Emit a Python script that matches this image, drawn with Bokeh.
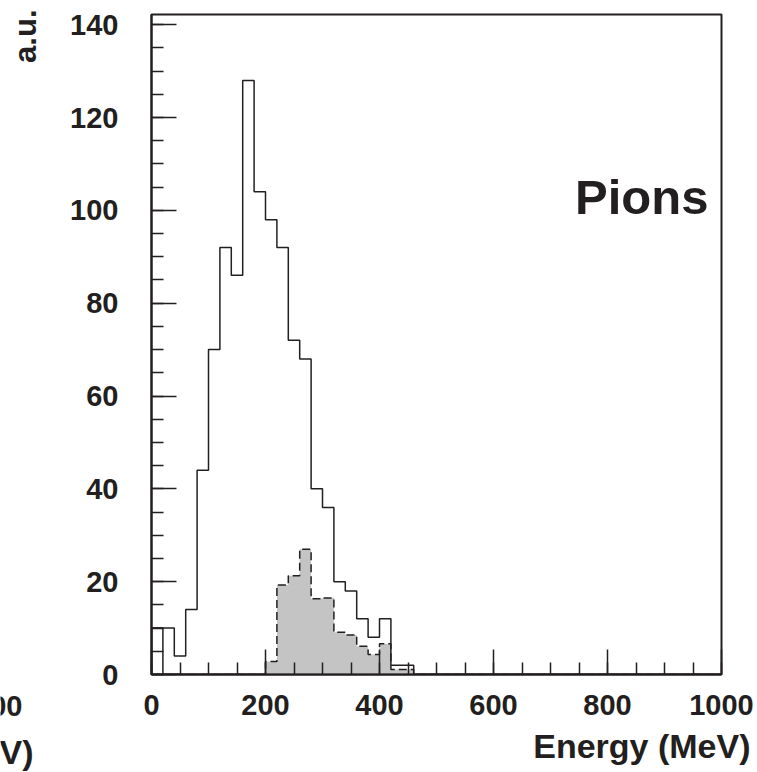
from bokeh.plotting import figure
from bokeh.layouts import row
from bokeh.models import FixedTicker, Label, Range1d, Title
from bokeh.embed import file_html
from bokeh.resources import INLINE

# ---- data (20 MeV bins from 0 to 1000 MeV) ----
energy_edges = [0, 20, 40, 60, 80, 100, 120, 140, 160, 180, 200, 220, 240, 260, 280, 300,
                320, 340, 360, 380, 400, 420, 440, 460, 480, 500, 520, 540, 560, 580, 600,
                620, 640, 660, 680, 700, 720, 740, 760, 780, 800, 820, 840, 860, 880, 900,
                920, 940, 960, 980, 1000]

pions_all = [10, 10, 4, 14, 44, 70, 92, 86, 128, 104, 98, 92, 72, 68, 40, 36, 20, 18, 12, 8,
             12, 2, 2, 0, 0, 0, 0, 0, 0, 0, 0, 0, 0, 0, 0, 0, 0, 0, 0, 0,
             0, 0, 0, 0, 0, 0, 0, 0, 0, 0]

pions_selected = [0, 0, 0, 0, 0, 0, 0, 0, 0, 0, 2.8, 19.3, 21.3, 27, 16.3, 16.5, 9.1, 8.5, 6.1, 4.3,
                  6.6, 1.1, 1.1, 0, 0, 0, 0, 0, 0, 0, 0, 0, 0, 0, 0, 0, 0, 0, 0, 0,
                  0, 0, 0, 0, 0, 0, 0, 0, 0, 0]

pions_extra = [10, 0, 0, 0, 0, 0, 0, 0, 0, 0, 0, 0, 0, 0, 0, 0, 0, 0, 0, 0,
               0, 0, 0, 0, 0, 0, 0, 0, 0, 0, 0, 0, 0, 0, 0, 0, 0, 0, 0, 0,
               0, 0, 0, 0, 0, 0, 0, 0, 0, 0]

x_major = [0, 200, 400, 600, 800, 1000]
x_minor = [0, 50, 100, 150, 200, 250, 300, 350, 400, 450, 500, 550, 600, 650, 700, 750,
           800, 850, 900, 950, 1000]
y_major = [0, 20, 40, 60, 80, 100, 120, 140]
y_minor = [0, 5, 10, 15, 20, 25, 30, 35, 40, 45, 50, 55, 60, 65, 70, 75, 80, 85, 90, 95,
           100, 105, 110, 115, 120, 125, 130, 135, 140]

x_title = "Energy (MeV)"
y_title = "a.u."
panel_label = "Pions"
neighbour_tick = "00"      # cut-off fragment of the neighbouring panel
neighbour_title = "V)"     # cut-off fragment of the neighbouring panel

INK = "#231f20"
FONT = "Liberation Sans"
STRIP_W = 40
H = 772


def step_outline(edges, vals):
    xs = [edges[0]]
    ys = [0]
    for i, v in enumerate(vals):
        xs += [edges[i], edges[i + 1]]
        ys += [v, v]
    xs.append(edges[-1])
    ys.append(0)
    return xs, ys


def txt(**kw):
    base = dict(text_font=FONT, text_font_style="bold", text_color=INK,
                text_baseline="alphabetic", text_align="right")
    base.update(kw)
    return Label(**base)


# ---- narrow strip on the left (neighbour fragments + y title) ----
strip = figure(width=STRIP_W, height=H, x_range=Range1d(0, STRIP_W), y_range=Range1d(0, H),
               x_axis_type=None, y_axis_type=None,
               output_backend="svg", toolbar_location=None,
               min_border=0, min_border_left=0, min_border_right=0,
               min_border_top=0, min_border_bottom=0)
strip.grid.visible = False
strip.outline_line_color = None
strip.background_fill_color = "white"
strip.border_fill_color = "white"
if "frame_align" in strip.properties():
    strip.frame_align = False

strip.add_layout(txt(x=25, y=H - 9, text=y_title, angle=1.5707963, text_font_size="31px"))
strip.add_layout(txt(x=22, y=67, text=neighbour_tick, text_font_size="29px"))
strip.add_layout(txt(x=33, y=21, text=neighbour_title, text_font_size="34px"))

# ---- main panel ----
p = figure(width=757 - STRIP_W, height=H,
           x_range=Range1d(0, 1000), y_range=Range1d(0, 142.2),
           output_backend="svg", toolbar_location=None,
           min_border_left=151 - STRIP_W, min_border_right=36,
           min_border_top=14, min_border_bottom=98)
if "frame_align" in p.properties():
    p.frame_align = False

p.grid.visible = False
p.background_fill_color = "white"
p.border_fill_color = "white"
p.outline_line_color = INK
p.outline_line_width = 2

for ax, maj, mino in ((p.xaxis[0], x_major, x_minor), (p.yaxis[0], y_major, y_minor)):
    ax.ticker = FixedTicker(ticks=maj, minor_ticks=mino)
    ax.axis_line_color = INK
    ax.axis_line_width = 2
    ax.major_tick_line_color = INK
    ax.minor_tick_line_color = INK
    ax.major_tick_line_width = 1.5
    ax.minor_tick_line_width = 1.5
    ax.major_tick_in = 25
    ax.major_tick_out = 0
    ax.minor_tick_in = 12
    ax.minor_tick_out = 0
    ax.major_label_text_font = FONT
    ax.major_label_text_font_style = "bold"
    ax.major_label_text_font_size = "29px"
    ax.major_label_text_color = INK

p.xaxis.major_label_standoff = 20
p.yaxis.major_label_standoff = 33

# x title, right part reaching beyond the frame end as in the reference
p.add_layout(Title(text=x_title, align="right", vertical_align="bottom", offset=-29,
                   standoff=14, text_baseline="alphabetic", text_font=FONT,
                   text_font_style="bold", text_font_size="34px", text_color=INK), "below")

# selected (gray) histogram fill
sx, sy = step_outline(energy_edges, pions_selected)
p.patch(sx, sy, fill_color="#c4c4c4", line_color=None)

# full histogram
ax_, ay_ = step_outline(energy_edges, pions_all)
p.line(ax_, ay_, line_color=INK, line_width=1.5)

# extra histogram
ex, ey = step_outline(energy_edges, pions_extra)
p.line(ex, ey, line_color=INK, line_width=1.5)

# dashed outline of selected histogram
p.line(sx, sy, line_color=INK, line_width=1.5, line_dash="8 4")

p.add_layout(txt(x=977, y=102.9, text=panel_label, text_font_size="49px"))

layout = row(strip, p, spacing=0)
open("out.html", "w").write(file_html(layout, INLINE))
